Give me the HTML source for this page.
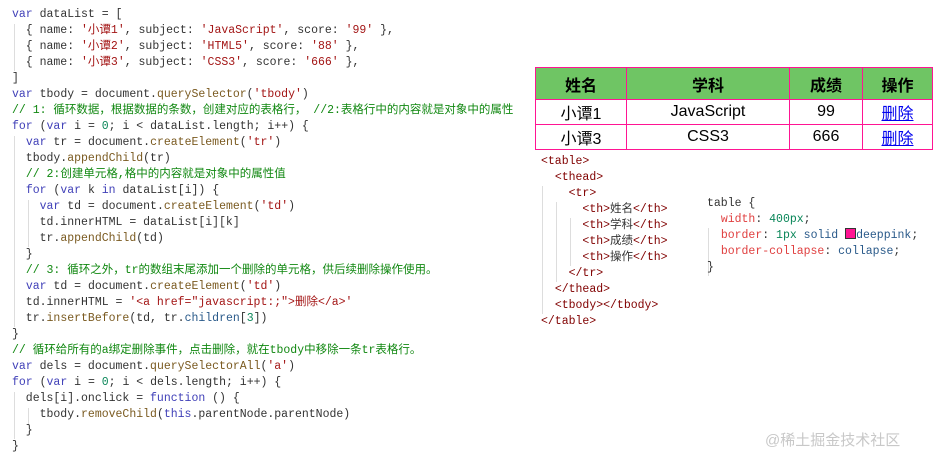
<!DOCTYPE html>
<html><head><meta charset="utf-8"><style>
body{margin:0;width:943px;height:465px;background:#fff;position:relative;overflow:hidden}
pre{margin:0;position:absolute;font-family:"Liberation Mono","Noto Sans CJK SC",monospace;font-size:11.5px;line-height:16px;color:#333}
.k{color:#4040b8}.s{color:#a31515}.m{color:#7a5a20}.c{color:#118811}.n{color:#098658}.t{color:#800000}.p{color:#e04040}.v{color:#2a5a8a}
table{position:absolute;left:535px;top:67px;width:398px;border-collapse:collapse;border:1px solid deeppink;font-family:"Liberation Sans","Noto Sans CJK SC",sans-serif;font-size:16px}
td,th{border:1px solid deeppink;text-align:center;padding:0}
th{background:#6fc564;height:31px;font-weight:bold}
td{height:23px}
a{color:#00e;text-decoration:underline}
.g{position:absolute;width:1px;background:#ddd}
</style></head><body>
<div class="g" style="left:14px;top:24px;height:47px"></div>
<div class="g" style="left:14px;top:136px;height:191px"></div>
<div class="g" style="left:28px;top:200px;height:47px"></div>
<div class="g" style="left:14px;top:392px;height:47px"></div>
<div class="g" style="left:28px;top:408px;height:16px"></div>
<pre style="left:12px;top:7px"><span class="k">var</span> dataList = [
  { name: <span class="s">'小谭1'</span>, subject: <span class="s">'JavaScript'</span>, score: <span class="s">'99'</span> },
  { name: <span class="s">'小谭2'</span>, subject: <span class="s">'HTML5'</span>, score: <span class="s">'88'</span> },
  { name: <span class="s">'小谭3'</span>, subject: <span class="s">'CSS3'</span>, score: <span class="s">'666'</span> },
]
<span class="k">var</span> tbody = document.<span class="m">querySelector</span>(<span class="s">'tbody'</span>)
<span class="c">// 1: 循环数据，根据数据的条数，创建对应的表格行， //2:表格行中的内容就是对象中的属性</span>
<span class="k">for</span> (<span class="k">var</span> i = <span class="n">0</span>; i &lt; dataList.length; i++) {
  <span class="k">var</span> tr = document.<span class="m">createElement</span>(<span class="s">'tr'</span>)
  tbody.<span class="m">appendChild</span>(tr)
  <span class="c">// 2:创建单元格,格中的内容就是对象中的属性值</span>
  <span class="k">for</span> (<span class="k">var</span> k <span class="k">in</span> dataList[i]) {
    <span class="k">var</span> td = document.<span class="m">createElement</span>(<span class="s">'td'</span>)
    td.innerHTML = dataList[i][k]
    tr.<span class="m">appendChild</span>(td)
  }
  <span class="c">// 3: 循环之外，tr的数组末尾添加一个删除的单元格，供后续删除操作使用。</span>
  <span class="k">var</span> td = document.<span class="m">createElement</span>(<span class="s">'td'</span>)
  td.innerHTML = <span class="s">'&lt;a href="javascript:;"&gt;删除&lt;/a&gt;'</span>
  tr.<span class="m">insertBefore</span>(td, tr.<span class="v">children</span>[<span class="n">3</span>])
}
<span class="c">// 循环给所有的a绑定删除事件，点击删除，就在tbody中移除一条tr表格行。</span>
<span class="k">var</span> dels = document.<span class="m">querySelectorAll</span>(<span class="s">'a'</span>)
<span class="k">for</span> (<span class="k">var</span> i = <span class="n">0</span>; i &lt; dels.length; i++) {
  dels[i].onclick = <span class="k">function</span> () {
    tbody.<span class="m">removeChild</span>(<span class="k">this</span>.parentNode.parentNode)
  }
}</pre>
<table>
<tr><th style="width:90px">姓名</th><th style="width:162px">学科</th><th style="width:72px">成绩</th><th>操作</th></tr>
<tr><td>小谭1</td><td>JavaScript</td><td>99</td><td><a>删除</a></td></tr>
<tr><td>小谭3</td><td>CSS3</td><td>666</td><td><a>删除</a></td></tr>
</table>
<div class="g" style="left:542px;top:186px;height:128px"></div>
<div class="g" style="left:556px;top:202px;height:80px"></div>
<div class="g" style="left:570px;top:218px;height:48px"></div>
<div class="g" style="left:708px;top:228px;height:48px"></div>
<pre style="left:541px;top:154px"><span class="t">&lt;table&gt;</span>
  <span class="t">&lt;thead&gt;</span>
    <span class="t">&lt;tr&gt;</span>
      <span class="t">&lt;th&gt;</span>姓名<span class="t">&lt;/th&gt;</span>
      <span class="t">&lt;th&gt;</span>学科<span class="t">&lt;/th&gt;</span>
      <span class="t">&lt;th&gt;</span>成绩<span class="t">&lt;/th&gt;</span>
      <span class="t">&lt;th&gt;</span>操作<span class="t">&lt;/th&gt;</span>
    <span class="t">&lt;/tr&gt;</span>
  <span class="t">&lt;/thead&gt;</span>
  <span class="t">&lt;tbody&gt;&lt;/tbody&gt;</span>
<span class="t">&lt;/table&gt;</span></pre>
<pre style="left:707px;top:196px">table {
  <span class="p">width</span>: <span class="n">400px</span>;
  <span class="p">border</span>: <span class="n">1px</span> <span class="v">solid</span> <span style="display:inline-block;width:9px;height:9px;background:deeppink;border:1px solid #333;vertical-align:-1px"></span><span class="v">deeppink</span>;
  <span class="p">border-collapse</span>: <span class="v">collapse</span>;
}</pre>
<div style="position:absolute;left:765px;top:429px;font-family:'Liberation Sans','Noto Sans CJK SC',sans-serif;font-size:15px;color:#c8c8c8">@稀土掘金技术社区</div>
</body></html>
